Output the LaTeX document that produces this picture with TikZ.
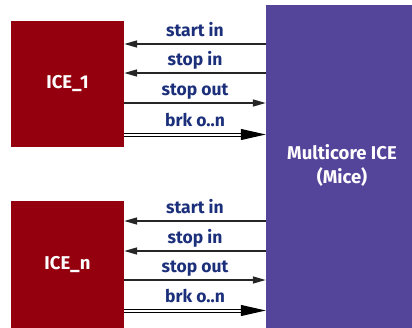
\documentclass[tikz,border=0pt]{standalone}
\usepackage{fontspec}
\setmainfont{Fira Sans}
\usetikzlibrary{arrows.meta}
\definecolor{icered}{HTML}{95000F}
\definecolor{micepurple}{HTML}{54449A}
\definecolor{lblblue}{HTML}{1B2F7A}
\tikzset{
  icebox/.style={fill=icered, draw=none, text=white, font=\fontsize{18.5bp}{22bp}\selectfont\bfseries, inner sep=0pt},
  micebox/.style={fill=micepurple, draw=none, inner sep=0pt},
  micetext/.style={text=white, font=\fontsize{18.5bp}{22bp}\selectfont\bfseries, inner sep=0pt},
  sig/.style={line width=1.6bp, draw=black!85},
  insig/.style={sig, {Triangle[length=13bp,width=7bp]}-},
  outsig/.style={sig, -{Triangle[length=13bp,width=7bp]}},
  bussig/.style={line width=1bp, double=white, double distance=2bp, draw=black, -{Triangle[length=25bp,width=11bp]}},
  lbl/.style={text=lblblue, font=\fontsize{17.5bp}{20bp}\selectfont\bfseries, anchor=base, inner sep=0pt, yshift=7.5bp}
}
\begin{document}
\begin{tikzpicture}[x=1bp,y=-1bp]
\useasboundingbox (0,0) rectangle (412,328);
\node[icebox, minimum width=113bp, minimum height=126bp] (ice1) at (67.5,84) {ICE\_1};
\node[icebox, minimum width=113bp, minimum height=127bp] (icen) at (67.5,264.5) {ICE\_n};
\node[micebox, minimum width=146bp, minimum height=323bp] (mice) at (339,166.5) {};
\node[micetext] (micet) at (342,152) {Multicore ICE};
\node[micetext] (micet2) at (342,177) {(Mice)};
% rows for ICE_1
\coordinate (a1) at (ice1.east |- 0,44);
\coordinate (a2) at (ice1.east |- 0,73);
\coordinate (a3) at (ice1.east |- 0,103);
\coordinate (a4) at (ice1.east |- 0,134.5);
\draw[insig] (a1) -- (mice.west |- a1) node[midway, lbl] {start in};
\draw[insig] (a2) -- (mice.west |- a2) node[midway, lbl] {stop in};
\draw[outsig] (a3) -- (mice.west |- a3) node[midway, lbl] {stop out};
\draw[bussig] (a4) -- (mice.west |- a4) node[midway, lbl, yshift=1bp] {brk o..n};
% rows for ICE_n
\coordinate (b1) at (icen.east |- 0,221);
\coordinate (b2) at (icen.east |- 0,251);
\coordinate (b3) at (icen.east |- 0,280);
\coordinate (b4) at (icen.east |- 0,310.5);
\draw[insig] (b1) -- (mice.west |- b1) node[midway, lbl] {start in};
\draw[insig] (b2) -- (mice.west |- b2) node[midway, lbl] {stop in};
\draw[outsig] (b3) -- (mice.west |- b3) node[midway, lbl] {stop out};
\draw[bussig] (b4) -- (mice.west |- b4) node[midway, lbl, yshift=1bp] {brk o..n};
\end{tikzpicture}
\end{document}
